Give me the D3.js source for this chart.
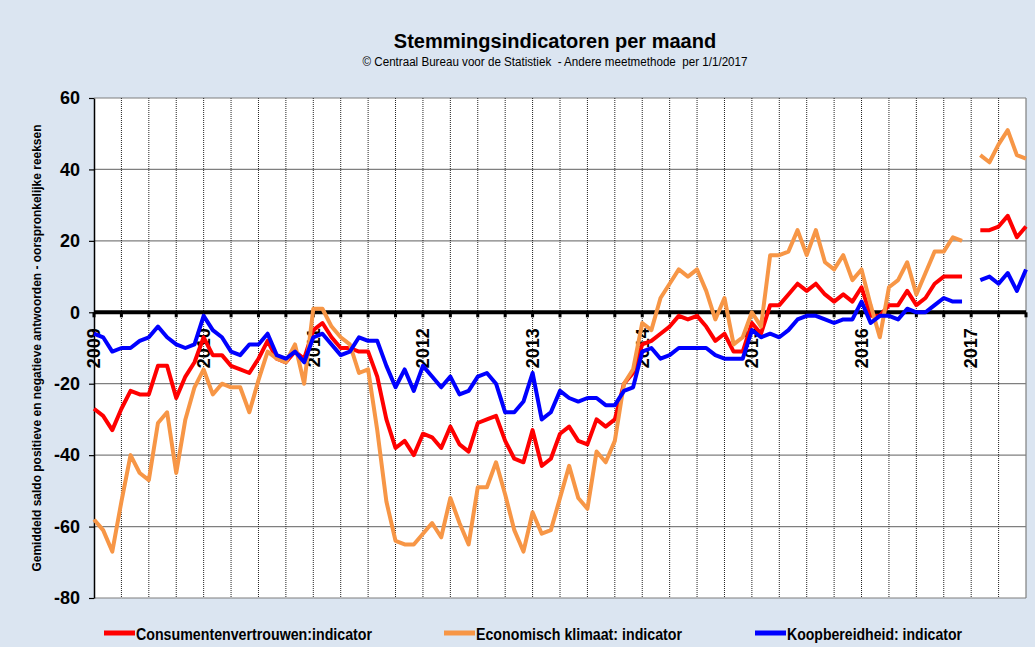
<!DOCTYPE html>
<html>
<head>
<meta charset="utf-8">
<script src="https://cdn.jsdelivr.net/npm/d3@7"></script>
<style>
  body { margin: 0; background: #dbe5f1; }
  text { font-family: "Liberation Sans", Arial, sans-serif; }
</style>
</head>
<body>
<div id="chart"></div>
<script>
// Stemmingsindicatoren per maand, jan 2009 - jul 2017 (index 96 = breuk in reeks)
const yearLabels = ['2009', '2010', '2011', '2012', '2013', '2014', '2015', '2016', '2017'];
const yTicks = [60, 40, 20, 0, -20, -40, -60, -80];

const consumentenvertrouwen = [
  -27, -29, -33, -27, -22, -23, -23, -15, -15, -24, -18, -14,
  -7, -12, -12, -15, -16, -17, -13, -8, -13, -14, -11, -13,
  -5, -3, -7, -10, -10, -11, -11, -18, -30, -38, -36, -40,
  -34, -35, -38, -32, -37, -39, -31, -30, -29, -36, -41, -42,
  -33, -43, -41, -34, -32, -36, -37, -30, -32, -30, -20, -17,
  -9, -8, -6, -4, -1, -2, -1, -4, -8, -6, -11, -11,
  -3, -6, 2, 2, 5, 8, 6, 8, 5, 3, 5, 3,
  7, -1, -1, 2, 2, 6, 2, 4, 8, 10, 10, 10,
  null, 23, 23, 24, 27, 21, 24
];
const economischKlimaat = [
  -58, -61, -67, -53, -40, -45, -47, -31, -28, -45, -30, -21,
  -16, -23, -20, -21, -21, -28, -19, -11, -13, -14, -9, -20,
  1, 1, -4, -7, -9, -17, -16, -33, -53, -64, -65, -65,
  -62, -59, -63, -52, -59, -65, -49, -49, -42, -51, -61, -67,
  -56, -62, -61, -52, -43, -52, -55, -39, -42, -36, -20, -16,
  -3, -5, 4, 8, 12, 10, 12, 6, -2, 4, -9, -7,
  0, -4, 16, 16, 17, 23, 16, 23, 14, 12, 16, 9,
  12, 2, -7, 7, 9, 14, 5, 11, 17, 17, 21, 20,
  null, 44, 42, 47, 51, 44, 43
];
const koopbereidheid = [
  -6, -7, -11, -10, -10, -8, -7, -4, -7, -9, -10, -9,
  -1, -5, -7, -11, -12, -9, -9, -6, -12, -13, -11, -14,
  -7, -6, -9, -12, -11, -7, -8, -8, -15, -21, -16, -22,
  -15, -18, -21, -18, -23, -22, -18, -17, -20, -28, -28, -25,
  -17, -30, -28, -22, -24, -25, -24, -24, -26, -26, -22, -21,
  -11, -10, -13, -12, -10, -10, -10, -10, -12, -13, -13, -13,
  -5, -7, -6, -7, -5, -2, -1, -1, -2, -3, -2, -2,
  3, -3, -1, -1, -2, 1, 0, 0, 2, 4, 3, 3,
  null, 9, 10, 8, 11, 6, 12
];

const series = [
  { name: 'Consumentenvertrouwen:indicator', values: consumentenvertrouwen, color: '#ff0000', lx: 104, len: 236 },
  { name: 'Economisch klimaat: indicator', values: economischKlimaat, color: '#f79646', lx: 444, len: 206 },
  { name: 'Koopbereidheid: indicator', values: koopbereidheid, color: '#0000ff', lx: 755, len: 175 }
];

const width = 1035, height = 647;
const plotLeft = 94, plotRight = 1026, plotTop = 98, plotBottom = 598;
const nMonths = consumentenvertrouwen.length - 1;

const x = d3.scaleLinear().domain([0, nMonths]).range([plotLeft, plotRight]);
const y = d3.scaleLinear().domain([-80, 60]).range([plotBottom, plotTop]);

const svg = d3.select('#chart').append('svg')
  .attr('width', width)
  .attr('height', height);

svg.append('rect').attr('width', width).attr('height', height).attr('fill', '#dbe5f1');
svg.append('rect')
  .attr('x', plotLeft).attr('y', plotTop)
  .attr('width', plotRight - plotLeft).attr('height', plotBottom - plotTop)
  .attr('fill', '#fff');

// horizontale rasterlijnen
svg.append('g')
  .selectAll('line')
  .data(yTicks.filter(d => d !== 0))
  .join('line')
  .attr('x1', plotLeft).attr('x2', plotRight)
  .attr('y1', d => y(d)).attr('y2', d => y(d))
  .attr('stroke', '#7f7f7f')
  .attr('stroke-width', 1.2);

// verticale rasterlijnen per kwartaal (gestippeld)
const quarters = d3.range(3, nMonths, 3);
svg.append('g')
  .selectAll('line')
  .data(quarters)
  .join('line')
  .attr('x1', d => x(d)).attr('x2', d => x(d))
  .attr('y1', plotTop).attr('y2', plotBottom)
  .attr('stroke', '#222')
  .attr('stroke-width', 1)
  .attr('stroke-dasharray', '1,1');

svg.append('line')
  .attr('x1', plotRight).attr('x2', plotRight)
  .attr('y1', plotTop).attr('y2', plotBottom)
  .attr('stroke', '#7f7f7f')
  .attr('stroke-width', 1.2);

// y-as
const yAxis = svg.append('g')
  .attr('transform', `translate(${plotLeft},0)`)
  .call(d3.axisLeft(y).tickValues(yTicks).tickFormat(d => String(d))
    .tickSize(5).tickPadding(9).tickSizeOuter(0));
yAxis.select('.domain').attr('stroke', '#000').attr('stroke-width', 1.5);
yAxis.selectAll('.tick line').attr('stroke', '#000').attr('stroke-width', 1.2);
yAxis.selectAll('.tick text')
  .attr('font-size', 18)
  .attr('font-weight', 'bold')
  .attr('fill', '#000')
  .style('font-family', '"Liberation Sans", Arial, sans-serif');

// nullijn met kwartaalstreepjes
svg.append('line')
  .attr('x1', plotLeft).attr('x2', plotRight)
  .attr('y1', y(0)).attr('y2', y(0))
  .attr('stroke', '#000')
  .attr('stroke-width', 4);
svg.append('g')
  .selectAll('rect')
  .data(d3.range(0, nMonths + 1, 3))
  .join('rect')
  .attr('x', d => x(d) - 1.5)
  .attr('y', y(0))
  .attr('width', 3)
  .attr('height', 5)
  .attr('fill', '#000');

// jaarlabels, verticaal
svg.append('g')
  .selectAll('text')
  .data(yearLabels)
  .join('text')
  .attr('transform', (d, i) => `translate(${x(i * 12)},${y(0) + 16}) rotate(-90)`)
  .attr('text-anchor', 'end')
  .attr('dy', '0.35em')
  .attr('font-size', 18)
  .attr('font-weight', 'bold')
  .text(d => d);

// lijnen
const line = d3.line()
  .defined(d => d != null)
  .x((d, i) => x(i))
  .y(d => y(d));

svg.append('g')
  .selectAll('path')
  .data(series)
  .join('path')
  .attr('d', d => line(d.values))
  .attr('fill', 'none')
  .attr('stroke', d => d.color)
  .attr('stroke-width', 4)
  .attr('stroke-linejoin', 'round');

// titels
svg.append('text')
  .attr('x', 555).attr('y', 48)
  .attr('text-anchor', 'middle')
  .attr('font-size', 20)
  .attr('font-weight', 'bold')
  .text('Stemmingsindicatoren per maand');
svg.append('text')
  .attr('x', 555).attr('y', 66)
  .attr('text-anchor', 'middle')
  .attr('font-size', 12)
  .attr('textLength', 385)
  .attr('lengthAdjust', 'spacingAndGlyphs')
  .style('white-space', 'pre')
  .text('© Centraal Bureau voor de Statistiek  - Andere meetmethode  per 1/1/2017');
svg.append('text')
  .attr('transform', `translate(41,${(plotTop + plotBottom) / 2}) rotate(-90)`)
  .attr('text-anchor', 'middle')
  .attr('font-size', 12)
  .attr('font-weight', 'bold')
  .attr('textLength', 447)
  .attr('lengthAdjust', 'spacingAndGlyphs')
  .text('Gemiddeld saldo positieve en negatieve antwoorden - oorspronkelijke reeksen');

// legenda
const legend = svg.append('g')
  .selectAll('g')
  .data(series)
  .join('g');
legend.append('line')
  .attr('x1', d => d.lx).attr('x2', d => d.lx + 31)
  .attr('y1', 633).attr('y2', 633)
  .attr('stroke', d => d.color)
  .attr('stroke-width', 5);
legend.append('text')
  .attr('x', d => d.lx + 32)
  .attr('y', 640)
  .attr('font-size', 17)
  .attr('font-weight', 'bold')
  .attr('textLength', d => d.len)
  .attr('lengthAdjust', 'spacingAndGlyphs')
  .text(d => d.name);
</script>
</body>
</html>
